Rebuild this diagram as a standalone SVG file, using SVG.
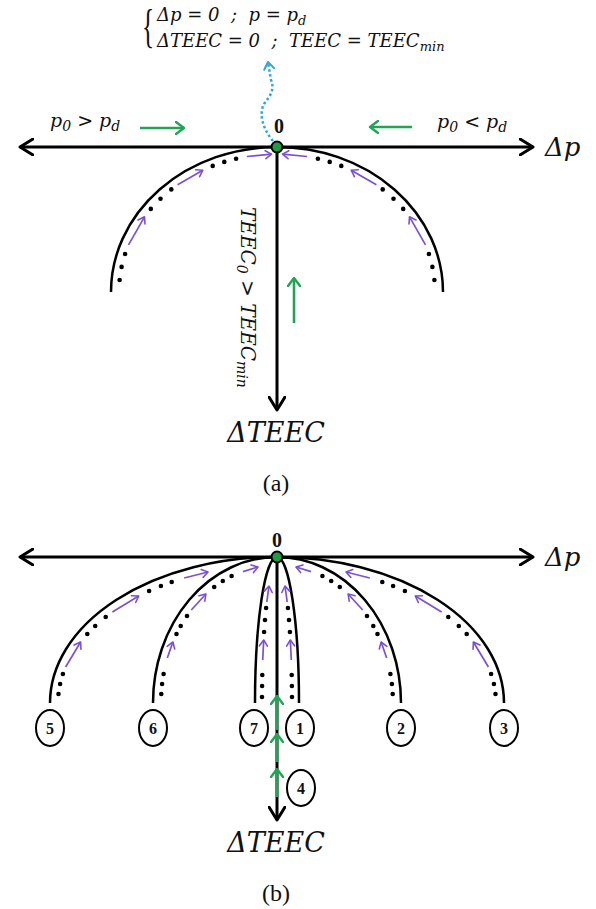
<svg xmlns="http://www.w3.org/2000/svg" width="596" height="909" viewBox="0 0 596 909">
<style>
.ax{fill:none;stroke:#000;stroke-width:3}
.arc{fill:none;stroke:#000;stroke-width:2.5}
.pa{fill:none;stroke:#7a52d1;stroke-width:1.7;marker-end:url(#mp)}
.ga{fill:none;stroke:#22a455;stroke-width:2.6;marker-end:url(#mg)}
.dot{fill:#000}
.m{font-family:"DejaVu Serif","Liberation Serif",serif;font-style:italic;fill:#111}
.r{font-family:"Liberation Serif","Times New Roman",serif;fill:#111}
.b{font-family:"Liberation Serif","Times New Roman",serif;font-weight:bold;fill:#111}
.ell{fill:#fff;stroke:#000;stroke-width:2}
.org{fill:#1f9d45;stroke:#000;stroke-width:2}
</style>
<defs>
<marker id="mb" markerUnits="userSpaceOnUse" viewBox="0 0 16 18" refX="14" refY="9" markerWidth="16" markerHeight="18" orient="auto-start-reverse">
<path d="M1,1 L14,9 L1,17" fill="none" stroke="#000" stroke-width="3" stroke-linejoin="round" stroke-linecap="round"/>
</marker>
<marker id="mg" markerUnits="userSpaceOnUse" viewBox="0 0 12 14" refX="9" refY="7" markerWidth="12" markerHeight="14" orient="auto">
<path d="M1,1 L9,7 L1,13" fill="none" stroke="#22a455" stroke-width="2.4" stroke-linejoin="round" stroke-linecap="round"/>
</marker>
<marker id="mp" markerUnits="userSpaceOnUse" viewBox="0 0 9 10" refX="7" refY="5" markerWidth="9" markerHeight="10" orient="auto">
<path d="M1,1 L7,5 L1,9" fill="none" stroke="#7a52d1" stroke-width="1.6" stroke-linejoin="round" stroke-linecap="round"/>
</marker>
<marker id="mc" markerUnits="userSpaceOnUse" viewBox="0 0 10 12" refX="8" refY="6" markerWidth="10" markerHeight="12" orient="auto">
<path d="M1,1 L8,6 L1,11" fill="none" stroke="#2aa7df" stroke-width="2" stroke-linejoin="round" stroke-linecap="round"/>
</marker>
</defs>

<g id="formula">
<text class="r" x="0" y="0" font-size="46" transform="translate(142,42) scale(0.55,1)">{</text>
<text class="m" x="157" y="21" font-size="18" xml:space="preserve">Δp = 0  ;  p = p<tspan font-size="13" dy="4">d</tspan></text>
<text class="m" x="157" y="47" font-size="18" xml:space="preserve">ΔTEEC = 0  ;  TEEC = TEEC<tspan font-size="13" dy="4">min</tspan></text>
</g>

<g id="connectors">
<path class="ax" d="M20,147 H533" marker-start="url(#mb)" marker-end="url(#mb)"/>
<path class="ax" d="M277,147 V410" marker-end="url(#mb)"/>
<path class="arc" d="M277,147 A166,145 0 0 0 111,292"/>
<path class="arc" d="M277,147 A166,145 0 0 1 443,292"/>
<path d="M273,141 C262,128 259,113 264,104 C270,96 275,90 271,80 L268,62" fill="none" stroke="#2aa7df" stroke-width="2.5" stroke-dasharray="2.5 2.5" marker-end="url(#mc)"/>
<path class="ga" d="M140,128 H184"/>
<path class="ga" d="M412,127 H370"/>
<path class="ga" d="M294,323 V278"/>
<path class="pa" d="M128.5,244.8 L144.5,216.8"/>
<path class="pa" d="M177.6,184.8 L202.8,170.2"/>
<path class="pa" d="M246.9,156.5 L271.5,154.1"/>
<path class="pa" d="M425.5,244.8 L409.5,216.8"/>
<path class="pa" d="M376.4,184.8 L351.2,170.2"/>
<path class="pa" d="M307.1,156.5 L282.5,154.1"/>

<path class="ax" d="M20,557 H533" marker-start="url(#mb)" marker-end="url(#mb)"/>
<path class="ax" d="M277,557 V820" marker-end="url(#mb)"/>
<path class="arc" d="M277,557 A227,146 0 0 0 50,703"/>
<path class="arc" d="M277,557 A124,146 0 0 0 153,703"/>
<path class="arc" d="M277,557 A22,146 0 0 0 255,703"/>
<path class="arc" d="M277,557 A22,146 0 0 1 299,703"/>
<path class="arc" d="M277,557 A124,146 0 0 1 401,703"/>
<path class="arc" d="M277,557 A227,146 0 0 1 504,703"/>
<path class="pa" d="M65.6,667 L80.6,642"/>
<path class="pa" d="M112.4,612 L138.7,596"/>
<path class="pa" d="M184.2,578 L208,572"/>
<path class="pa" d="M488.4,667 L473.4,642"/>
<path class="pa" d="M441.6,612 L415.3,596"/>
<path class="pa" d="M369.8,578 L346,572"/>
<path class="pa" d="M167.3,658 L172.9,642"/>
<path class="pa" d="M191.3,610 L205.9,594"/>
<path class="pa" d="M243,571.6 L258,567"/>
<path class="pa" d="M386.7,658 L381.1,642"/>
<path class="pa" d="M362.7,610 L348.1,594"/>
<path class="pa" d="M311,571.6 L296,567"/>
<path class="pa" d="M262.7,660 L263.7,640"/>
<path class="pa" d="M266.8,602 L269,586"/>
<path class="pa" d="M291.3,660 L290.3,640"/>
<path class="pa" d="M287.2,602 L285,586"/>
<path class="ga" d="M277,730 V696" stroke-width="3"/>
<path class="ga" d="M277,762 V734" stroke-width="3"/>
<path class="ga" d="M277,797 V769" stroke-width="3"/>
</g>

<g id="dots-a">
<circle class="dot" r="2.3" cx="119.6" cy="280"/>
<circle class="dot" r="2.3" cx="121.6" cy="266.9"/>
<circle class="dot" r="2.3" cx="125.1" cy="254"/>
<circle class="dot" r="2.3" cx="150.8" cy="208.9"/>
<circle class="dot" r="2.3" cx="160.5" cy="198.8"/>
<circle class="dot" r="2.3" cx="171.3" cy="189.4"/>
<circle class="dot" r="2.3" cx="212.7" cy="165.9"/>
<circle class="dot" r="2.3" cx="224.3" cy="161.9"/>
<circle class="dot" r="2.3" cx="236.1" cy="158.7"/>
<circle class="dot" r="2.3" cx="434.4" cy="280"/>
<circle class="dot" r="2.3" cx="432.4" cy="266.9"/>
<circle class="dot" r="2.3" cx="428.9" cy="254"/>
<circle class="dot" r="2.3" cx="403.2" cy="208.9"/>
<circle class="dot" r="2.3" cx="393.5" cy="198.8"/>
<circle class="dot" r="2.3" cx="382.7" cy="189.4"/>
<circle class="dot" r="2.3" cx="341.3" cy="165.9"/>
<circle class="dot" r="2.3" cx="329.7" cy="161.9"/>
<circle class="dot" r="2.3" cx="317.9" cy="158.7"/>
</g>

<g id="dots-b">
<circle class="dot" r="2.3" cx="58.5" cy="694"/>
<circle class="dot" r="2.3" cx="60.1" cy="684"/>
<circle class="dot" r="2.3" cx="62.9" cy="674"/>
<circle class="dot" r="2.3" cx="87.3" cy="634"/>
<circle class="dot" r="2.3" cx="95.2" cy="626"/>
<circle class="dot" r="2.3" cx="105.7" cy="617"/>
<circle class="dot" r="2.3" cx="149.1" cy="591"/>
<circle class="dot" r="2.3" cx="160.9" cy="586"/>
<circle class="dot" r="2.3" cx="171.7" cy="582"/>
<circle class="dot" r="2.3" cx="495.5" cy="694"/>
<circle class="dot" r="2.3" cx="493.9" cy="684"/>
<circle class="dot" r="2.3" cx="491.1" cy="674"/>
<circle class="dot" r="2.3" cx="466.7" cy="634"/>
<circle class="dot" r="2.3" cx="458.8" cy="626"/>
<circle class="dot" r="2.3" cx="448.3" cy="617"/>
<circle class="dot" r="2.3" cx="404.9" cy="591"/>
<circle class="dot" r="2.3" cx="393.1" cy="586"/>
<circle class="dot" r="2.3" cx="382.3" cy="582"/>
<circle class="dot" r="2.3" cx="161.3" cy="694"/>
<circle class="dot" r="2.3" cx="162.1" cy="684"/>
<circle class="dot" r="2.3" cx="163.6" cy="674"/>
<circle class="dot" r="2.3" cx="176.5" cy="634"/>
<circle class="dot" r="2.3" cx="180.7" cy="626"/>
<circle class="dot" r="2.3" cx="187" cy="616"/>
<circle class="dot" r="2.3" cx="214.2" cy="587"/>
<circle class="dot" r="2.3" cx="222.8" cy="581"/>
<circle class="dot" r="2.3" cx="231.6" cy="576"/>
<circle class="dot" r="2.3" cx="392.7" cy="694"/>
<circle class="dot" r="2.3" cx="391.9" cy="684"/>
<circle class="dot" r="2.3" cx="390.4" cy="674"/>
<circle class="dot" r="2.3" cx="377.5" cy="634"/>
<circle class="dot" r="2.3" cx="373.3" cy="626"/>
<circle class="dot" r="2.3" cx="367" cy="616"/>
<circle class="dot" r="2.3" cx="339.8" cy="587"/>
<circle class="dot" r="2.3" cx="331.2" cy="581"/>
<circle class="dot" r="2.3" cx="322.4" cy="576"/>
<circle class="dot" r="2.3" cx="262" cy="697"/>
<circle class="dot" r="2.3" cx="262.1" cy="686"/>
<circle class="dot" r="2.3" cx="262.3" cy="675"/>
<circle class="dot" r="2.3" cx="264.1" cy="632"/>
<circle class="dot" r="2.3" cx="265" cy="620"/>
<circle class="dot" r="2.3" cx="266.1" cy="608"/>
<circle class="dot" r="2.3" cx="292" cy="697"/>
<circle class="dot" r="2.3" cx="291.9" cy="686"/>
<circle class="dot" r="2.3" cx="291.7" cy="675"/>
<circle class="dot" r="2.3" cx="289.9" cy="632"/>
<circle class="dot" r="2.3" cx="289" cy="620"/>
<circle class="dot" r="2.3" cx="287.9" cy="608"/>
</g>

<g id="origin-a">
<circle class="org" cx="277" cy="147" r="5.5"/>
<text class="b" x="279" y="133" font-size="20" text-anchor="middle">0</text>
</g>
<g id="labels-a">
<text class="m" x="50" y="127" font-size="19">p<tspan font-size="14" dy="4">0</tspan><tspan dy="-4"> &gt; p</tspan><tspan font-size="14" dy="4">d</tspan></text>
<text class="m" x="437" y="128" font-size="19">p<tspan font-size="14" dy="4">0</tspan><tspan dy="-4"> &lt; p</tspan><tspan font-size="14" dy="4">d</tspan></text>
<text class="m" x="545" y="156" font-size="26">Δp</text>
<text class="m" font-size="20" transform="translate(241,207) rotate(90)">TEEC<tspan font-size="14" dy="4">0</tspan><tspan dy="-4"> &gt; TEEC</tspan><tspan font-size="14" dy="4">min</tspan></text>
<text class="m" x="276" y="442" font-size="27" text-anchor="middle">ΔTEEC</text>
<text class="r" x="276" y="491" font-size="24" text-anchor="middle">(a)</text>
</g>

<g id="origin-b">
<circle class="org" cx="277" cy="557" r="5.5"/>
<text class="b" x="277" y="547" font-size="20" text-anchor="middle">0</text>
</g>
<g id="labels-b">
<text class="m" x="545" y="566" font-size="26">Δp</text>
<text class="m" x="276" y="852" font-size="27" text-anchor="middle">ΔTEEC</text>
<text class="r" x="276" y="901" font-size="24" text-anchor="middle">(b)</text>
</g>

<g id="node-5"><ellipse class="ell" cx="50" cy="728" rx="14" ry="18"/><text class="b" x="50" y="734" font-size="16" text-anchor="middle">5</text></g>
<g id="node-6"><ellipse class="ell" cx="153" cy="728" rx="14" ry="18"/><text class="b" x="153" y="734" font-size="16" text-anchor="middle">6</text></g>
<g id="node-7"><ellipse class="ell" cx="254" cy="728" rx="14" ry="18"/><text class="b" x="254" y="734" font-size="16" text-anchor="middle">7</text></g>
<g id="node-1"><ellipse class="ell" cx="300" cy="728" rx="14" ry="18"/><text class="b" x="300" y="734" font-size="16" text-anchor="middle">1</text></g>
<g id="node-2"><ellipse class="ell" cx="401" cy="728" rx="14" ry="18"/><text class="b" x="401" y="734" font-size="16" text-anchor="middle">2</text></g>
<g id="node-3"><ellipse class="ell" cx="504" cy="728" rx="14" ry="18"/><text class="b" x="504" y="734" font-size="16" text-anchor="middle">3</text></g>
<g id="node-4"><ellipse class="ell" cx="301" cy="788" rx="14" ry="18"/><text class="b" x="301" y="794" font-size="16" text-anchor="middle">4</text></g>
</svg>
